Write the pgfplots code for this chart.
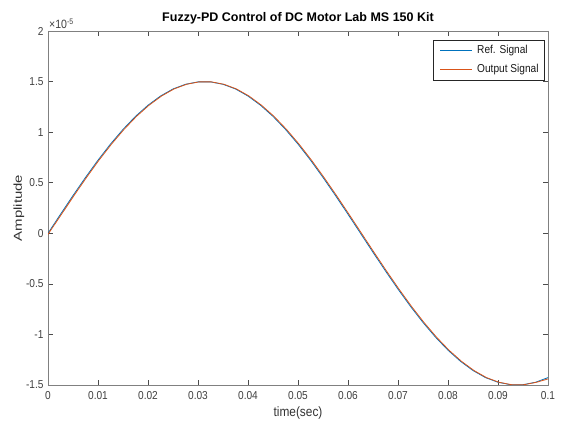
\documentclass[border=0pt]{standalone}
\usepackage{pgfplots}
\pgfplotsset{compat=1.18}
\usepackage{fontspec}
\setmainfont{Liberation Sans}
\newfontfamily\narrowfont{Liberation Sans}[FakeStretch=0.88]
\newfontfamily\widefont{Liberation Sans}[FakeStretch=1.3]
\definecolor{mblue}{rgb}{0,0.447,0.741}
\definecolor{morange}{rgb}{0.85,0.325,0.098}
\definecolor{axgray}{rgb}{0.5,0.5,0.5}
\begin{document}
\begin{tikzpicture}
\begin{axis}[
  name=ax,
  scale only axis,
  width=500pt, height=354pt,
  xmin=0, xmax=0.1, ymin=-1.5, ymax=2,
  xtick={0,0.01,...,0.1},
  xticklabels={0,0.01,0.02,0.03,0.04,0.05,0.06,0.07,0.08,0.09,0.1},
  ytick={-1.5,-1,-0.5,0,0.5,1,1.5,2},
  yticklabels={-1.5,-1,-0.5,0,0.5,1,1.5,2},
  tick align=inside,
  major tick length=5pt,
  axis line style={axgray, line width=0.8pt},
  major tick style={black!70, line width=0.6pt},
  tick label style={font=\narrowfont\fontsize{11.5}{13}\selectfont, text=black!75},
  xticklabel style={yshift=-3pt},
  yticklabel style={xshift=-1pt},
  /pgf/number format/assume math mode=true,
  xlabel={time(sec)},
  ylabel={Amplitude},
  xlabel style={font=\narrowfont\fontsize{13.5}{15}\selectfont, text=black!80, yshift=0pt},
  ylabel style={font=\widefont\fontsize{11.5}{14}\selectfont, text=black!80, yshift=-5pt},
  title={\bfseries Fuzzy-PD Control of DC Motor Lab MS 150 Kit},
  title style={font=\fontsize{12.5}{14}\selectfont, yshift=-3pt},
  clip mode=individual,
]
\addplot[mblue, line width=0.8pt] coordinates {
(0,0) (0.0025,0.188) (0.005,0.373) (0.0075,0.552) (0.01,0.723) (0.0125,0.882)
(0.015,1.027) (0.0175,1.156) (0.02,1.266) (0.0225,1.357) (0.025,1.427)
(0.0275,1.473) (0.03,1.497) (0.0325,1.497) (0.035,1.473) (0.0375,1.427)
(0.04,1.357) (0.0425,1.266) (0.045,1.156) (0.0475,1.027) (0.05,0.882)
(0.0525,0.723) (0.055,0.552) (0.0575,0.373) (0.06,0.188) (0.0625,0)
(0.065,-0.188) (0.0675,-0.373) (0.07,-0.552) (0.0725,-0.723) (0.075,-0.882)
(0.0775,-1.027) (0.08,-1.156) (0.0825,-1.266) (0.085,-1.357) (0.0875,-1.427)
(0.09,-1.473) (0.0925,-1.497) (0.095,-1.497) (0.0975,-1.473) (0.1,-1.427)
};
\addplot[morange, line width=0.8pt] coordinates {
(0,-0.01) (0.0027,0.188) (0.0052,0.373) (0.0077,0.552) (0.0102,0.723) (0.0127,0.882)
(0.0152,1.027) (0.0177,1.156) (0.0202,1.266) (0.0227,1.357) (0.0252,1.427)
(0.0277,1.473) (0.0302,1.497) (0.0327,1.497) (0.0352,1.473) (0.0377,1.427)
(0.0402,1.357) (0.0427,1.266) (0.0452,1.156) (0.0477,1.027) (0.0502,0.882)
(0.0527,0.723) (0.0552,0.552) (0.0577,0.373) (0.0602,0.188) (0.0627,0)
(0.0652,-0.188) (0.0677,-0.373) (0.0702,-0.552) (0.0727,-0.723) (0.0752,-0.882)
(0.0777,-1.027) (0.0802,-1.156) (0.0827,-1.266) (0.0852,-1.357) (0.0877,-1.427)
(0.0902,-1.473) (0.0927,-1.497) (0.0952,-1.497) (0.0977,-1.473) (0.1,-1.44)
};
\end{axis}
\node[anchor=south west, font=\narrowfont\fontsize{12}{13}\selectfont, text=black!75, inner sep=1pt] at ([yshift=1pt]ax.north west) {×10\textsuperscript{-5}};
\begin{scope}[shift={(ax.north east)}]
  \draw[black!85, fill=white, line width=0.6pt] (-115pt,-9pt) rectangle (-4pt,-49pt);
  \draw[mblue, line width=0.9pt] (-108pt,-19.5pt) -- (-76pt,-19.5pt);
  \draw[morange, line width=0.9pt] (-108pt,-38.5pt) -- (-76pt,-38.5pt);
  \node[anchor=west, inner sep=0pt, font=\narrowfont\fontsize{11.5}{13}\selectfont, text=black!90] at (-71pt,-19.5pt) {Ref. Signal};
  \node[anchor=west, inner sep=0pt, font=\narrowfont\fontsize{11.5}{13}\selectfont, text=black!90] at (-71pt,-38.5pt) {Output Signal};
\end{scope}
\pgfresetboundingbox
\path[use as bounding box] ([xshift=-48pt,yshift=-43pt]ax.south west) rectangle ([xshift=17pt,yshift=31pt]ax.north east);
\end{tikzpicture}
\end{document}
